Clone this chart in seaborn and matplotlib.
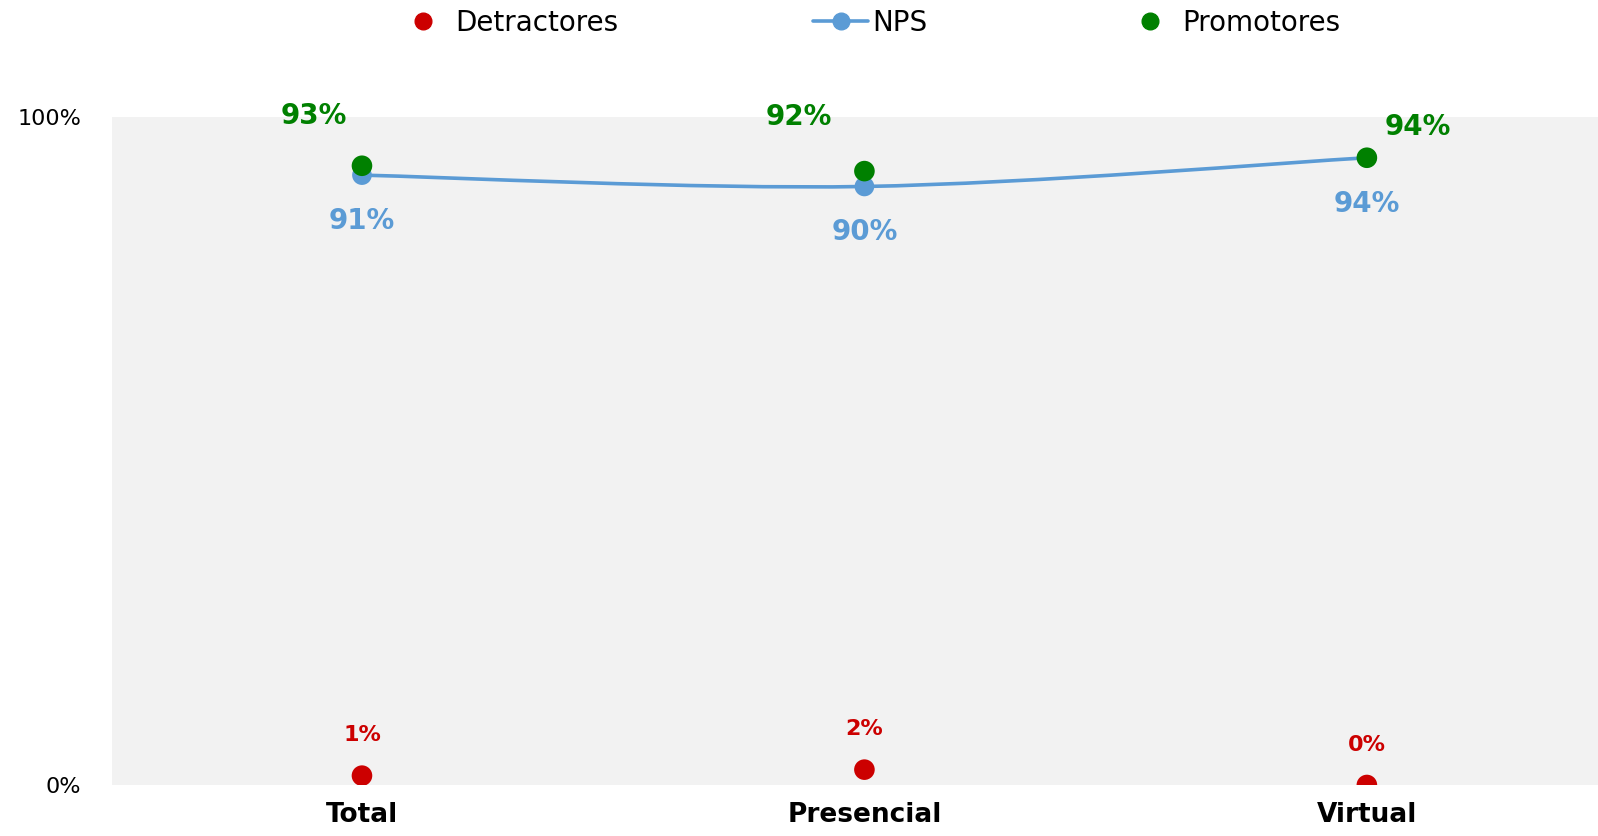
import numpy as np
import pandas as pd
import matplotlib
matplotlib.use("Agg")
import matplotlib.pyplot as plt
from matplotlib.path import Path
from matplotlib.patches import PathPatch
from matplotlib.lines import Line2D
import seaborn as sns

# Data
categories = ["Total", "Presencial", "Virtual"]
promotores = [0.927, 0.919, 0.939]
detractores = [0.014, 0.023, 0.000]
nps = [0.913, 0.896, 0.939]
y_tick_values = [0.0, 1.0]
y_tick_labels = ["0%", "100%"]

# Styling
RED = "#CC0000"
GREEN = "#008000"
BLUE = "#5B9BD5"
BG = "#F2F2F2"

sns.set_theme(style="white")
plt.rcParams["font.family"] = ["DejaVu Sans"]
plt.rcParams["text.color"] = "black"

fig = plt.figure(figsize=(15.98, 8.36), dpi=100)
ax = fig.add_axes([112 / 1598, 1 - 785 / 836, 1 - 112 / 1598, (785 - 117) / 836])
ax.set_facecolor(BG)
for s in ax.spines.values():
    s.set_visible(False)

x = np.arange(len(categories))
df = pd.DataFrame({
    "pos": np.tile(x, 3),
    "value": detractores + nps + promotores,
    "serie": ["Detractores"] * 3 + ["NPS"] * 3 + ["Promotores"] * 3,
})

# Smoothed NPS line (Catmull-Rom as cubic Bezier segments)
pts = np.column_stack([x, nps]).astype(float)
verts = [tuple(pts[0])]
codes = [Path.MOVETO]
n = len(pts)
for i in range(n - 1):
    p0 = pts[max(i - 1, 0)]
    p1 = pts[i]
    p2 = pts[i + 1]
    p3 = pts[min(i + 2, n - 1)]
    c1 = p1 + (p2 - p0) / 6.0
    c2 = p2 - (p3 - p1) / 6.0
    verts += [tuple(c1), tuple(c2), tuple(p2)]
    codes += [Path.CURVE4] * 3
ax.add_patch(PathPatch(Path(verts, codes), facecolor="none", edgecolor=BLUE,
                       lw=2.6, zorder=2, capstyle="round"))

palette = {"Detractores": RED, "NPS": BLUE, "Promotores": GREEN}
sns.scatterplot(data=df[df.serie == "NPS"], x="pos", y="value", hue="serie",
                palette=palette, s=200, linewidth=0, ax=ax, zorder=3, legend=False)
sns.scatterplot(data=df[df.serie != "NPS"], x="pos", y="value", hue="serie",
                palette=palette, s=220, linewidth=0, ax=ax, zorder=4, legend=False)

ax.set_xlim(-0.4975, 2.46)
ax.set_ylim(0, 1)
ax.set_xticks(x)
ax.set_xticklabels(categories, fontsize=19, fontweight="bold", color="black")
ax.set_yticks(y_tick_values)
ax.set_yticklabels(y_tick_labels, fontsize=16, color="black")
ax.tick_params(axis="y", length=0, pad=22)
ax.tick_params(axis="x", length=0, pad=12)
ax.set_xlabel("")
ax.set_ylabel("")
ax.grid(False)

def pct(v):
    return f"{round(v * 100):.0f}%"

# Value labels (offsets in points)
prom_offsets = [(-35, 36), (-47, 39), (37, 22)]
for xi, v, off in zip(x, promotores, prom_offsets):
    ax.annotate(pct(v), (xi, v), xytext=off, textcoords="offset points",
                ha="center", va="center", fontsize=20, fontweight="bold",
                color=GREEN, zorder=5)
for xi, v in zip(x, nps):
    ax.annotate(pct(v), (xi, v), xytext=(0, -33), textcoords="offset points",
                ha="center", va="center", fontsize=20, fontweight="bold",
                color=BLUE, zorder=5)
for xi, v in zip(x, detractores):
    ax.annotate(pct(v), (xi, v), xytext=(0, 29), textcoords="offset points",
                ha="center", va="center", fontsize=16, fontweight="bold",
                color=RED, zorder=5)

# Legend
handles = [
    Line2D([], [], ls="none", marker="o", ms=12, color=RED, label="Detractores"),
    Line2D([], [], ls="-", lw=2.6, marker="o", ms=12, color=BLUE, label="NPS"),
    Line2D([], [], ls="none", marker="o", ms=12, color=GREEN, label="Promotores"),
]
fig.legend(handles=handles, loc="center", bbox_to_anchor=(0.543, 1 - 23 / 836),
           ncol=3, frameon=False, fontsize=20, handlelength=2.0,
           handletextpad=0.15, columnspacing=7.0, labelcolor="black")

fig.savefig("out.png", dpi=100, facecolor="white")
